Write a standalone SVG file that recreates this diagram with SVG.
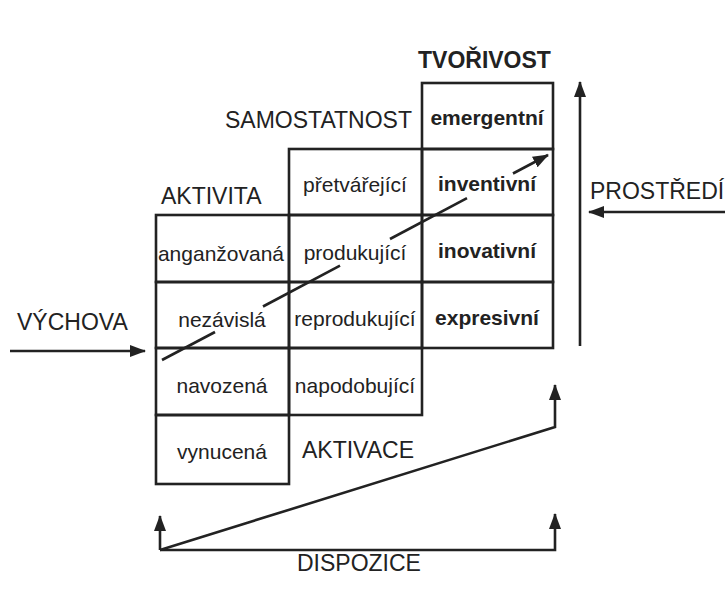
<svg xmlns="http://www.w3.org/2000/svg" width="725" height="594" viewBox="0 0 725 594">
  <style>
    .cell { fill: none; stroke: #222; stroke-width: 2.6; }
    .t { font-family: "Liberation Sans", Arial, sans-serif; fill: #222; }
    .c { font-size: 21px; text-anchor: middle; }
    .b { font-weight: bold; }
    .cap { font-size: 23px; }
    .ln { fill: none; stroke: #222; stroke-width: 2.6; stroke-linejoin: miter; }
  </style>
  <defs>
    <marker id="arrow" viewBox="0 0 16 12" refX="15" refY="6" markerWidth="16" markerHeight="12" markerUnits="userSpaceOnUse" orient="auto">
      <path d="M0,0 L16,6 L0,12 Z" fill="#222"/>
    </marker>
  </defs>
  <rect width="725" height="594" fill="#fff"/>

  <!-- right column: creativity -->
  <g id="emergentni"><rect class="cell" x="422" y="83" width="131" height="66"/><text class="t c b" x="487" y="125">emergentní</text></g>
  <g id="inventivni"><rect class="cell" x="422" y="149" width="131" height="66"/><text class="t c b" x="487" y="191">inventivní</text></g>
  <g id="inovativni"><rect class="cell" x="422" y="215" width="131" height="67"/><text class="t c b" x="487" y="258">inovativní</text></g>
  <g id="expresivni"><rect class="cell" x="422" y="282" width="131" height="66"/><text class="t c b" x="487" y="325">expresivní</text></g>

  <!-- middle column: independence -->
  <g id="pretvarejici"><rect class="cell" x="289" y="149" width="133" height="66"/><text class="t c" x="355" y="192">přetvářející</text></g>
  <g id="produkujici"><rect class="cell" x="289" y="215" width="133" height="67"/><text class="t c" x="355" y="260">produkující</text></g>
  <g id="reprodukujici"><rect class="cell" x="289" y="282" width="133" height="66"/><text class="t c" x="355" y="326">reprodukující</text></g>
  <g id="napodobujici"><rect class="cell" x="289" y="348" width="133" height="67"/><text class="t c" x="355" y="393">napodobující</text></g>

  <!-- left column: activity -->
  <g id="anganzovana"><rect class="cell" x="156" y="215" width="133" height="67"/><text class="t c" x="221" y="261">anganžovaná</text></g>
  <g id="nezavisla"><rect class="cell" x="156" y="282" width="133" height="66"/><text class="t c" x="222" y="327">nezávislá</text></g>
  <g id="navozena"><rect class="cell" x="156" y="348" width="133" height="67"/><text class="t c" x="222" y="393">navozená</text></g>
  <g id="vynucena"><rect class="cell" x="156" y="415" width="133" height="69"/><text class="t c" x="222" y="459">vynucená</text></g>

  <!-- axis and level labels -->
  <g id="tvorivost"><text class="t cap b" x="418" y="68">TVOŘIVOST</text></g>
  <g id="samostatnost"><text class="t cap" x="225" y="128">SAMOSTATNOST</text></g>
  <g id="aktivita"><text class="t cap" x="161" y="204">AKTIVITA</text></g>
  <g id="vychova"><text class="t cap" x="17" y="330">VÝCHOVA</text></g>
  <g id="prostredi"><text class="t cap" x="590" y="199">PROSTŘEDÍ</text></g>
  <g id="aktivace"><text class="t cap" x="302" y="458">AKTIVACE</text></g>
  <g id="dispozice"><text class="t cap" x="297" y="571">DISPOZICE</text></g>

  <!-- connectors -->
  <g id="connectors">
    <!-- diagonal growth line, interrupted behind the cell labels -->
    <line class="ln" x1="162" y1="360" x2="215" y2="332"/>
    <line class="ln" x1="263" y1="306.5" x2="340" y2="265.6"/>
    <line class="ln" x1="390" y1="239" x2="467" y2="198.2"/>
    <line class="ln" x1="513" y1="173.5" x2="548" y2="155" marker-end="url(#arrow)"/>

    <!-- upbringing from the left -->
    <line class="ln" x1="10" y1="351" x2="145" y2="351" marker-end="url(#arrow)"/>
    <!-- environment from the right -->
    <line class="ln" x1="725" y1="212" x2="589" y2="212" marker-end="url(#arrow)"/>
    <!-- creativity axis -->
    <line class="ln" x1="580" y1="346" x2="580" y2="82" marker-end="url(#arrow)"/>

    <!-- disposition base -->
    <polyline class="ln" points="160,550 160,516" marker-end="url(#arrow)"/>
    <polyline class="ln" points="160,550 555,550 555,514" marker-end="url(#arrow)"/>
    <polyline class="ln" points="160,550 555,427 555,385" marker-end="url(#arrow)"/>
  </g>
</svg>
